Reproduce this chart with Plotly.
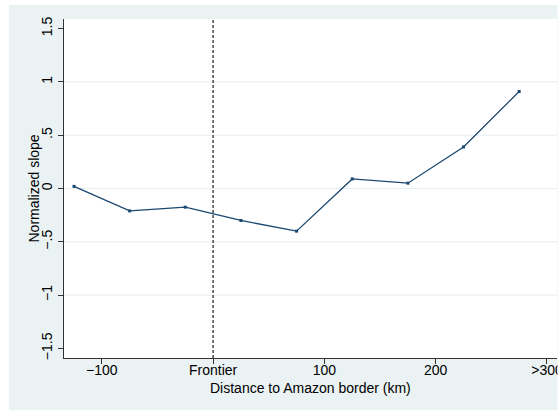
import plotly.graph_objects as go

# Data
distance_km = [-125, -75, -25, 25, 75, 125, 175, 225, 275]
normalized_slope = [0.02, -0.21, -0.175, -0.30, -0.40, 0.09, 0.05, 0.39, 0.91]

x_tick_vals = [-100, 0, 100, 200, 300]
x_tick_text = ["\u2212100", "Frontier", "100", "200", ">300"]
y_tick_vals = [-1.5, -1, -0.5, 0, 0.5, 1, 1.5]
y_tick_text = ["\u22121.5", "\u22121", "\u2212.5", "0", ".5", "1", "1.5"]
grid_vals = [-1, -0.5, 0, 0.5, 1]
frontier_x = 0

BG = "#EAF2F3"
GRID = "#E4EDEF"
NAVY = "#1A476F"
AXIS = "#333333"
FONT = "Liberation Sans, Arial, sans-serif"
FS = 14

W, H = 559, 410
L, R, T, B = 64, 2, 19, 52
pw = W - L - R
ph = H - T - B

def px_x(p):
    return (p - L) / pw

def px_y(p):
    return (H - B - p) / ph

fig = go.Figure()
fig.add_trace(go.Scatter(
    x=distance_km, y=normalized_slope, mode="lines+markers",
    line=dict(color=NAVY, width=1.3),
    marker=dict(symbol="square", size=3, color=NAVY),
    showlegend=False, hoverinfo="skip",
))

shapes = []
for g in grid_vals:
    shapes.append(dict(type="line", xref="paper", yref="y", x0=0, x1=1, y0=g, y1=g,
                       line=dict(color=GRID, width=1), layer="below"))
shapes.append(dict(type="line", xref="x", yref="paper", x0=frontier_x, x1=frontier_x, y0=0, y1=1,
                   line=dict(color="#555555", width=1.6, dash="3px,2px"), layer="above"))
# white outer strips (left, top, right)
shapes.append(dict(type="rect", xref="paper", yref="paper", x0=px_x(-5), x1=px_x(9),
                   y0=px_y(H + 5), y1=px_y(-5), fillcolor="white", line=dict(width=0)))
shapes.append(dict(type="rect", xref="paper", yref="paper", x0=px_x(-5), x1=px_x(W + 5),
                   y0=px_y(5), y1=px_y(-5), fillcolor="white", line=dict(width=0)))
shapes.append(dict(type="rect", xref="paper", yref="paper", x0=px_x(557.5), x1=px_x(W + 5),
                   y0=px_y(H + 5), y1=px_y(-5), fillcolor="white", line=dict(width=0)))

fig.update_layout(
    width=W, height=H,
    margin=dict(l=L, r=R, t=T, b=B, autoexpand=False),
    paper_bgcolor=BG, plot_bgcolor="white",
    font=dict(family=FONT, size=FS, color="#000000"),
    shapes=shapes,
    xaxis=dict(range=[-134, 309], tickmode="array", tickvals=x_tick_vals, ticktext=x_tick_text,
               showgrid=False, zeroline=False, showline=True, linecolor=AXIS, linewidth=1,
               ticks="outside", ticklen=5, tickcolor=AXIS, tickfont=dict(size=FS),
               ticklabeloverflow="allow", ticklabelstandoff=-6, automargin=False),
    yaxis=dict(range=[-1.59, 1.59], tickmode="array", tickvals=y_tick_vals, ticktext=y_tick_text,
               tickangle=-90, showgrid=False, zeroline=False, showline=True, linecolor=AXIS, linewidth=1,
               ticks="outside", ticklen=5, tickcolor=AXIS, tickfont=dict(size=FS), automargin=False),
    annotations=[
        dict(text="Distance to Amazon border (km)", xref="paper", yref="paper", x=0.5, y=0,
             xanchor="center", yanchor="middle", yshift=-30, showarrow=False, font=dict(size=FS)),
        dict(text="Normalized slope", xref="paper", yref="paper", x=0, y=0.5,
             xanchor="center", yanchor="middle", xshift=-31, textangle=-90, showarrow=False,
             font=dict(size=FS)),
    ],
)

fig.write_html("out.html")
